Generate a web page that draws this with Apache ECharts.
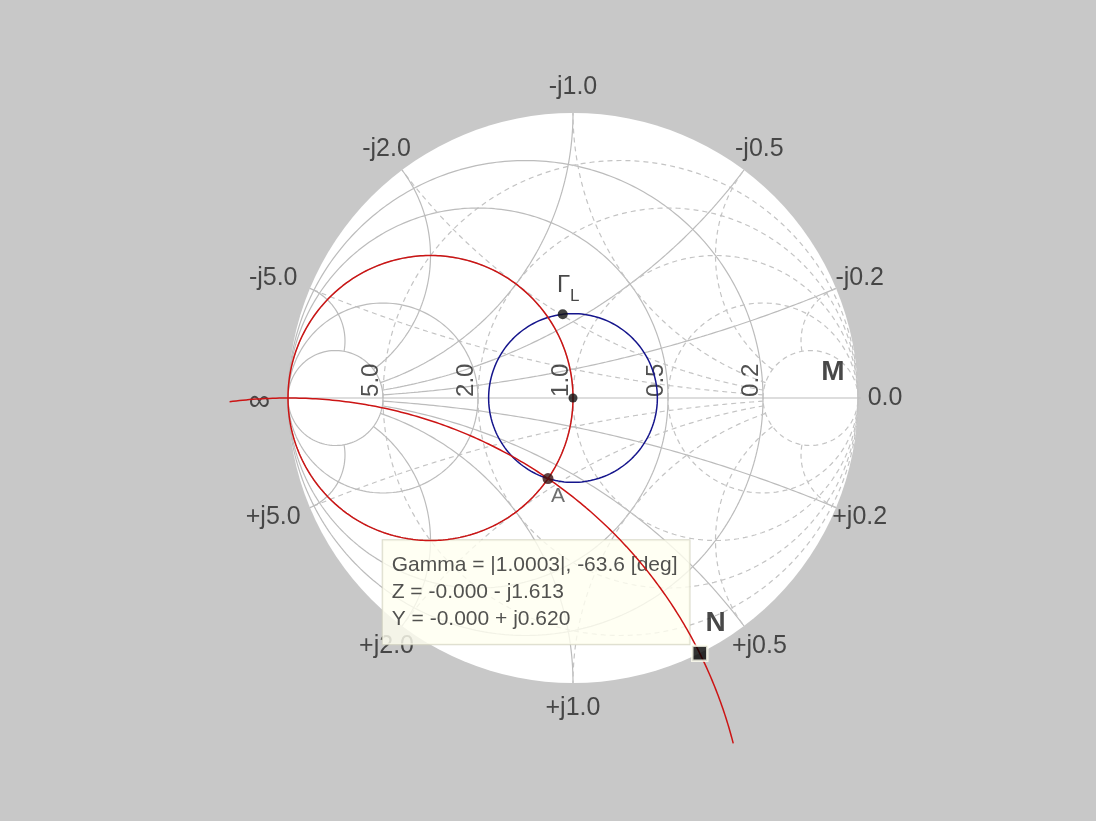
<!DOCTYPE html>
<html><head><meta charset="utf-8">
<script src="https://cdn.jsdelivr.net/npm/echarts@6/dist/echarts.min.js"></script>
<style>html,body{margin:0;padding:0;background:#c8c8c8;}#c{width:1096px;height:821px;}</style>
</head><body><div id="c"></div>
<script>
// ---- data ----
const gridValues = [0.2, 0.5, 1, 2, 5];
const gridLimit = 5;                 // arcs stop at the outermost circle
const conductanceLabelValues = [5, 2, 1, 0.5, 0.2];
const conductanceLabels = ['5.0', '2.0', '1.0', '0.5', '0.2'];
const susceptanceValues = [-5, -2, -1, -0.5, -0.2, 0.2, 0.5, 1, 2, 5];
const susceptanceLabels = ['-j5.0', '-j2.0', '-j1.0', '-j0.5', '-j0.2', '+j0.2', '+j0.5', '+j1.0', '+j2.0', '+j5.0'];
const edgeLabels = ['0.0', '∞'];
const edgeAngles = [0, 180];
const matchConductance = 1;
const gammaL = [0.296, 97];          // |Γ|, angle deg
const stubSusceptance = 0.62;
const stubArcDeg = [97.3, 14.4];     // arc extent around its centre
const pointN = [1.0003, -63.6];      // |Γ|, angle deg
const pointM = [0.912, 0.091];       // label position (Γ plane)
const tooltipLines = ['Gamma = |1.0003|, -63.6 [deg]', 'Z = -0.000 - j1.613', 'Y = -0.000 + j0.620'];

// ---- geometry helpers ----
const FONT = 'Liberation Sans, Arial, sans-serif';
function polar(m, deg) { const a = deg * Math.PI / 180; return [m * Math.cos(a), m * Math.sin(a)]; }
function arcPts(cx, cy, r, a0, a1, n) {
  const pts = [];
  for (let i = 0; i <= n; i++) { const t = a0 + (a1 - a0) * i / n; pts.push([cx + r * Math.cos(t), cy + r * Math.sin(t)]); }
  return pts;
}
function gammaOfY(g, b) { // Γ = (1 - y)/(1 + y)
  const nr = 1 - g, ni = -b, dr = 1 + g, di = b, den = dr * dr + di * di;
  return [(nr * dr + ni * di) / den, (ni * dr - nr * di) / den];
}
// constant-susceptance arc from g = gridLimit to g = 0
function susceptanceArc(b) {
  const cx = -1, cy = -1 / b, r = Math.abs(1 / b);
  const p1 = gammaOfY(gridLimit, b), p2 = gammaOfY(0, b);
  const t1 = Math.atan2(p1[1] - cy, p1[0] - cx);
  let d = Math.atan2(p2[1] - cy, p2[0] - cx) - t1;
  while (d > Math.PI) d -= 2 * Math.PI;
  while (d <= -Math.PI) d += 2 * Math.PI;
  return arcPts(cx, cy, r, t1, t1 + d, 240);
}
const mirror = pts => pts.map(p => [-p[0], p[1]]);
const lineBase = { type: 'line', showSymbol: false, silent: true, animation: false, symbol: 'none' };
const solid = { color: '#bcbcbc', width: 1.2 };
const dashed = { color: '#c4c4c4', width: 1.2, type: [5, 4] };
const series = [];

// white disc
series.push({ type: 'custom', z: 0, silent: true, data: [[0, 0]],
  renderItem: (p, api) => { const c = api.coord([0, 0]), e = api.coord([1, 0]);
    return { type: 'circle', shape: { cx: c[0], cy: c[1], r: e[0] - c[0] }, style: { fill: '#ffffff' } }; } });

// admittance grid (solid) and impedance grid (dashed, mirrored)
gridValues.forEach(v => {
  const gc = arcPts(-v / (1 + v), 0, 1 / (1 + v), 0, 2 * Math.PI, 360);
  [gc, susceptanceArc(v), susceptanceArc(-v)].forEach(pts => {
    series.push(Object.assign({}, lineBase, { z: 1, data: pts, lineStyle: solid }));
    series.push(Object.assign({}, lineBase, { z: 1, data: mirror(pts), lineStyle: dashed }));
  });
});
series.push(Object.assign({}, lineBase, { z: 1, data: [[-1, 0], [1.01, 0]], lineStyle: solid }));

// outer labels
const outer = susceptanceValues.map((b, i) => {
  const g = gammaOfY(0, b); const a = Math.atan2(g[1], g[0]) * 180 / Math.PI;
  return { value: polar(1.09, a), name: susceptanceLabels[i], label: { offset: [Math.abs(b) === 5 ? -13 : 0, 0] } };
});
edgeLabels.forEach((t, i) => outer.push({ value: polar(i === 1 ? 1.1 : 1.095, edgeAngles[i]), name: t,
  label: i === 1 ? { fontSize: 30, offset: [0, 4] } : {} }));
series.push({ type: 'scatter', z: 4, silent: true, symbolSize: 0.1, itemStyle: { color: 'rgba(0,0,0,0)' }, data: outer,
  label: { show: true, position: [0, 0], align: 'center', verticalAlign: 'middle', formatter: p => p.name,
    fontSize: 25, color: '#262626', fontFamily: FONT } });

// rotated conductance labels
series.push({ type: 'scatter', z: 4, silent: true, symbolSize: 0.1, itemStyle: { color: 'rgba(0,0,0,0)' },
  data: conductanceLabelValues.map((g, i) => ({ value: [(1 - g) / (1 + g), 0], name: conductanceLabels[i] })),
  label: { show: true, position: [0, 0], rotate: 90, align: 'left', verticalAlign: 'bottom', offset: [1, 0],
    formatter: p => p.name, fontSize: 24, color: '#262626', fontFamily: FONT } });

// tooltip box (attached to point N)
const nXY = polar(pointN[0], pointN[1]);
series.push({ type: 'scatter', z: 5, silent: true, symbolSize: 0.1, itemStyle: { color: 'rgba(0,0,0,0)' }, data: [nXY],
  label: { show: true, position: [0, 0], align: 'left', verticalAlign: 'top', offset: [-317, -113],
    formatter: tooltipLines.join('\n'), fontSize: 21, lineHeight: 27, color: '#262626', fontFamily: FONT,
    backgroundColor: '#fffff0', borderColor: '#cfcfbd', borderWidth: 1, padding: [11, 12, 12, 9] } });

// SWR circle, matching circle and stub arc
series.push(Object.assign({}, lineBase, { z: 6, data: arcPts(0, 0, gammaL[0], 0, 2 * Math.PI, 360), lineStyle: { color: '#15158c', width: 1.5 } }));
series.push(Object.assign({}, lineBase, { z: 6, data: arcPts(-matchConductance / (1 + matchConductance), 0, 1 / (1 + matchConductance), 0, 2 * Math.PI, 360), lineStyle: { color: '#cc1414', width: 1.5 } }));
series.push(Object.assign({}, lineBase, { z: 6, data: arcPts(-1, -1 / stubSusceptance, 1 / stubSusceptance, stubArcDeg[0] * Math.PI / 180, stubArcDeg[1] * Math.PI / 180, 400), lineStyle: { color: '#cc1414', width: 1.5 } }));

// markers
const aXY = gammaOfY(matchConductance, stubSusceptance);
const gXY = polar(gammaL[0], gammaL[1]);
series.push({ type: 'scatter', z: 7, silent: true, data: [
    { value: [0, 0], symbolSize: 9, itemStyle: { color: '#111' } },
    { value: gXY, symbolSize: 10, itemStyle: { color: '#111' } },
    { value: aXY, symbolSize: 11, itemStyle: { color: '#3a1010' } }
  ] });
series.push({ type: 'scatter', z: 7, silent: true, symbolSize: 0.1, itemStyle: { color: 'rgba(0,0,0,0)' }, data: [
    { value: gXY, name: 'Γ', label: { offset: [1, -29], fontSize: 24 } },
    { value: gXY, name: 'L', label: { offset: [12, -18], fontSize: 17 } },
    { value: aXY, name: 'A', label: { offset: [10, 18], fontSize: 21, color: '#4a4a4a' } },
    { value: pointM, name: 'M', label: { fontSize: 28, fontWeight: 'bold' } },
    { value: nXY, name: 'N', label: { offset: [16, -30], fontSize: 28, fontWeight: 'bold' } }
  ],
  label: { show: true, position: [0, 0], align: 'center', verticalAlign: 'middle', formatter: p => p.name, color: '#1a1a1a', fontFamily: FONT } });
series.push({ type: 'scatter', z: 8, silent: true, data: [nXY], symbol: 'rect', symbolSize: 15,
  itemStyle: { color: '#000', borderColor: '#fffff0', borderWidth: 2.5 } });

const chart = echarts.init(document.getElementById('c'), null, { renderer: 'canvas' });
chart.setOption({
  backgroundColor: '#c8c8c8', animation: false,
  grid: { left: 202.5, top: 4.7, width: 741, height: 786.6 },
  xAxis: { type: 'value', min: -1.3, max: 1.3, show: false },
  yAxis: { type: 'value', min: -1.38, max: 1.38, show: false },
  series: series
});
</script></body></html>
